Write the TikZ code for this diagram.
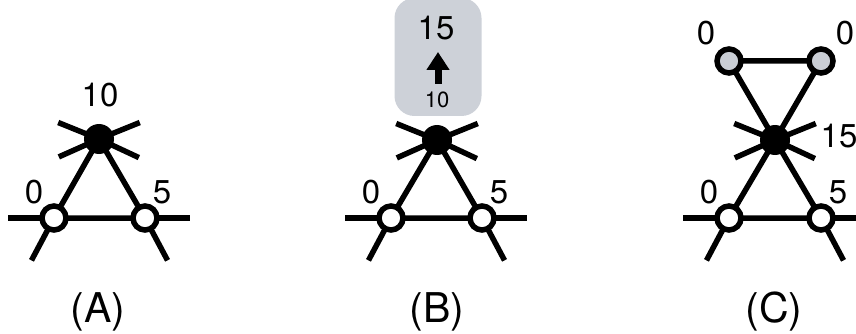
\documentclass[tikz,border=0pt]{standalone}
\usepackage{fontspec}
\setmainfont{TeX Gyre Heros}
\usetikzlibrary{arrows.meta,backgrounds}

\definecolor{boxgray}{HTML}{CDD1D8}
\definecolor{dotgray}{HTML}{CACED5}

\begin{document}
\begin{tikzpicture}[x=1pt, y=-1pt,
    hub/.style={circle, fill=black, inner sep=0pt, minimum size=30pt},
    leaf/.style={circle, draw, line width=5.5pt, fill=white, inner sep=0pt, minimum size=24pt},
    greyleaf/.style={leaf, fill=dotgray},
    edge/.style={line width=5.5pt},
    num/.style={inner sep=0pt, font=\fontsize{33}{33}\selectfont},
    small/.style={inner sep=0pt, font=\fontsize{22}{22}\selectfont},
    tag/.style={inner sep=0pt, anchor=base, font=\fontsize{41}{41}\selectfont},
    panelbox/.style={rounded corners=20pt, fill=boxgray, inner sep=0pt, minimum width=87pt, minimum height=118pt}]
    \useasboundingbox (0,0) rectangle (856,334);

    % Panel A Nodes
    \node (A-top) [hub] at (99,139) {};
    \node (A-wl) [leaf] at (54,218) {};
    \node (A-wr) [leaf] at (145,218) {};
    \node (A-n10) [num] at (100,95) {10};
    \node (A-n0) [num] at (34,192) {0};
    \node (A-n5) [num] at (162,192) {5};
    \node (A-tag) [tag] at (98,322) {(A)};

    % Panel B Nodes
    \node (B-box) [panelbox] at (438,57) {};
    \node (B-n15) [num] at (436,28) {15};
    \node (B-n10) [small] at (437,100) {10};
    \coordinate (B-a0) at (438,84);
    \coordinate (B-a1) at (438,52);
    \node (B-top) [hub] at (437,140) {};
    \node (B-wl) [leaf] at (391,218) {};
    \node (B-wr) [leaf] at (482,218) {};
    \node (B-n0) [num] at (371,192) {0};
    \node (B-n5) [num] at (499,192) {5};
    \node (B-tag) [tag] at (437,322) {(B)};

    % Panel C Nodes
    \node (C-top) [hub] at (775,140) {};
    \node (C-wl) [leaf] at (729,218) {};
    \node (C-wr) [leaf] at (821,218) {};
    \node (C-gl) [greyleaf] at (729,61) {};
    \node (C-gr) [greyleaf] at (821,61) {};
    \node (C-n0a) [num] at (706,33) {0};
    \node (C-n0b) [num] at (845,33) {0};
    \node (C-n15) [num] at (839,136) {15};
    \node (C-n0) [num] at (709,192) {0};
    \node (C-n5) [num] at (838,192) {5};
    \node (C-tag) [tag] at (774,322) {(C)};

    % Free ends
    \coordinate (A-s1) at ([shift={(158:44pt)}]A-top.center);
    \coordinate (A-s2) at ([shift={(22:44pt)}]A-top.center);
    \coordinate (A-s3) at ([shift={(204:44pt)}]A-top.center);
    \coordinate (A-s4) at ([shift={(-25:44pt)}]A-top.center);
    \coordinate (A-hl) at ([xshift=-46pt]A-wl.center);
    \coordinate (A-hr) at ([xshift=45pt]A-wr.center);
    \coordinate (A-ll) at ([shift={(242:48pt)}]A-wl.center);
    \coordinate (A-lr) at ([shift={(-62:48pt)}]A-wr.center);

    \coordinate (B-s1) at ([shift={(158:44pt)}]B-top.center);
    \coordinate (B-s2) at ([shift={(22:44pt)}]B-top.center);
    \coordinate (B-s3) at ([shift={(204:44pt)}]B-top.center);
    \coordinate (B-s4) at ([shift={(-25:44pt)}]B-top.center);
    \coordinate (B-hl) at ([xshift=-46pt]B-wl.center);
    \coordinate (B-hr) at ([xshift=45pt]B-wr.center);
    \coordinate (B-ll) at ([shift={(242:48pt)}]B-wl.center);
    \coordinate (B-lr) at ([shift={(-62:48pt)}]B-wr.center);

    \coordinate (C-s1) at ([shift={(158:44pt)}]C-top.center);
    \coordinate (C-s2) at ([shift={(22:44pt)}]C-top.center);
    \coordinate (C-s3) at ([shift={(204:44pt)}]C-top.center);
    \coordinate (C-s4) at ([shift={(-25:44pt)}]C-top.center);
    \coordinate (C-hl) at ([xshift=-46pt]C-wl.center);
    \coordinate (C-hr) at (856,218);
    \coordinate (C-ll) at ([shift={(242:48pt)}]C-wl.center);
    \coordinate (C-lr) at ([shift={(-62:48pt)}]C-wr.center);

    % Arrow
    \draw[line width=7pt, -{Triangle[width=22pt, length=18pt]}] (B-a0) -- (B-a1);

    % Lines
    \begin{pgfonlayer}{background}
    \draw[edge] (A-top.center) -- (A-wl.center) -- (A-wr.center) -- (A-top.center);
    \draw[edge] (A-hl) -- (A-wl.center);
    \draw[edge] (A-wr.center) -- (A-hr);
    \draw[edge] (A-wl.center) -- (A-ll);
    \draw[edge] (A-wr.center) -- (A-lr);
    \draw[edge] (A-top.center) -- (A-s1);
    \draw[edge] (A-top.center) -- (A-s2);
    \draw[edge] (A-top.center) -- (A-s3);
    \draw[edge] (A-top.center) -- (A-s4);

    \draw[edge] (B-top.center) -- (B-wl.center) -- (B-wr.center) -- (B-top.center);
    \draw[edge] (B-hl) -- (B-wl.center);
    \draw[edge] (B-wr.center) -- (B-hr);
    \draw[edge] (B-wl.center) -- (B-ll);
    \draw[edge] (B-wr.center) -- (B-lr);
    \draw[edge] (B-top.center) -- (B-s1);
    \draw[edge] (B-top.center) -- (B-s2);
    \draw[edge] (B-top.center) -- (B-s3);
    \draw[edge] (B-top.center) -- (B-s4);

    \draw[edge] (C-top.center) -- (C-wl.center) -- (C-wr.center) -- (C-top.center);
    \draw[edge] (C-top.center) -- (C-gl.center) -- (C-gr.center) -- (C-top.center);
    \draw[edge] (C-hl) -- (C-wl.center);
    \draw[edge] (C-wr.center) -- (C-hr);
    \draw[edge] (C-wl.center) -- (C-ll);
    \draw[edge] (C-wr.center) -- (C-lr);
    \draw[edge] (C-top.center) -- (C-s1);
    \draw[edge] (C-top.center) -- (C-s2);
    \draw[edge] (C-top.center) -- (C-s3);
    \draw[edge] (C-top.center) -- (C-s4);
    \end{pgfonlayer}
\end{tikzpicture}
\end{document}
